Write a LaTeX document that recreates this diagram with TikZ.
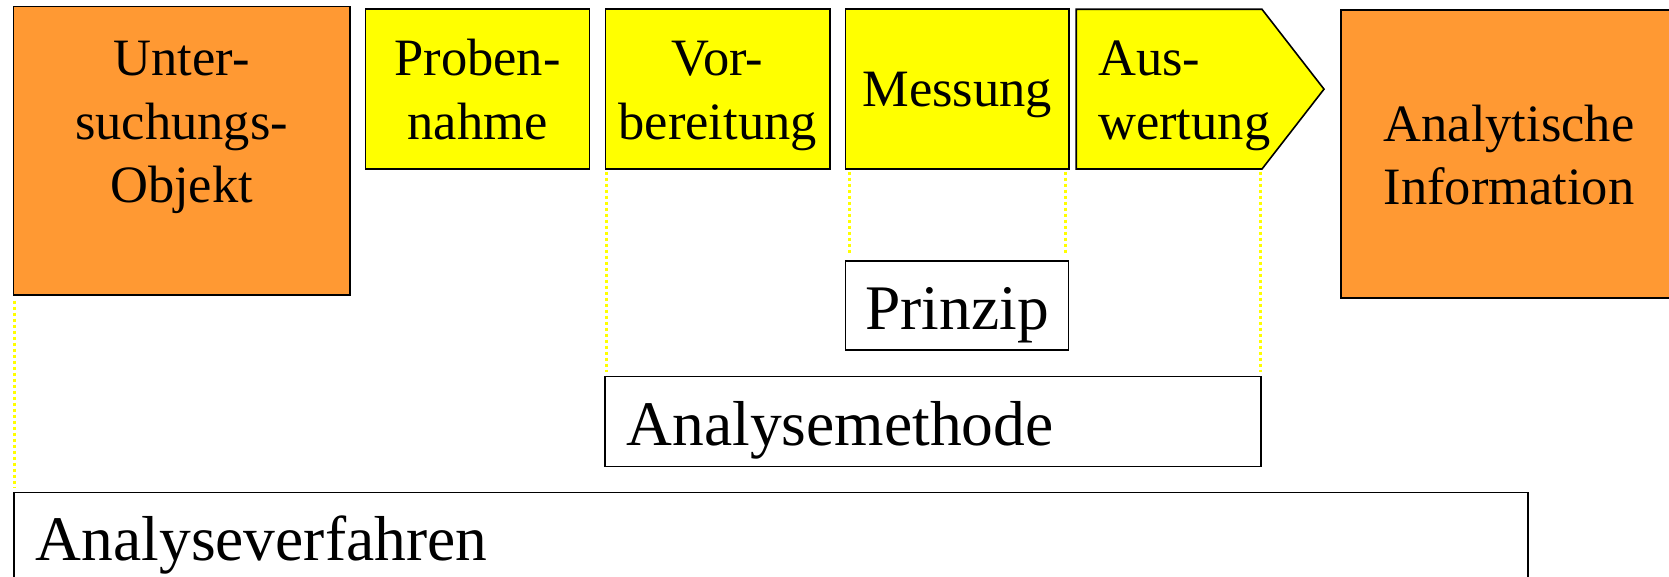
\documentclass[tikz,border=0pt]{standalone}
\usepackage{fontspec}
\setmainfont{Liberation Serif}
\usetikzlibrary{backgrounds}
\definecolor{boxorange}{RGB}{255,153,51}
\definecolor{boxyellow}{RGB}{255,255,0}
\begin{document}
\begin{tikzpicture}[
  x=1pt, y=-1pt,
  box/.style={draw=black, line width=1.6pt, inner sep=0pt, outer sep=0pt, anchor=north west},
  txt/.style={inner sep=0pt, font=\fontsize{52.5pt}{63.5pt}\selectfont, align=center},
  big/.style={inner sep=0pt, font=\fontsize{63.5pt}{76pt}\selectfont},
  guide/.style={draw=boxyellow, line width=3pt, dash pattern=on 3pt off 3pt}
]
\useasboundingbox (0,0) rectangle (1669,577);

% process steps
\node[box, fill=boxorange, minimum width=336.4pt, minimum height=288.3pt] (obj) at (13.4,6.7) {};
\node[box, fill=boxyellow, minimum width=223.9pt, minimum height=159.7pt] (probe) at (365.5,9.3) {};
\node[box, fill=boxyellow, minimum width=224.4pt, minimum height=159.7pt] (vorb) at (605.4,9.3) {};
\node[box, fill=boxyellow, minimum width=223.4pt, minimum height=159.7pt] (mess) at (845.6,9.3) {};
\node[inner sep=0pt, outer sep=0pt, anchor=north west, minimum width=185.8pt, minimum height=159.7pt] (ausw) at (1076.2,9.3) {};
\begin{scope}[on background layer]
  \draw[line width=1.6pt, fill=boxyellow, line join=miter]
    (ausw.north west) -- (ausw.north east) -- ([xshift=62pt]ausw.east)
    -- (ausw.south east) -- (ausw.south west) -- cycle;
\end{scope}
\node[box, fill=boxorange, minimum width=336pt, minimum height=288pt] (info) at (1341,10) {};

% nested scopes
\node[box, fill=white, minimum width=222.8pt, minimum height=89pt] (prinzip) at (845.5,261) {};
\node[box, fill=white, minimum width=656pt, minimum height=90pt] (methode) at (605,376.5) {};
\node[box, fill=white, minimum width=1514pt, minimum height=120pt] (verfahren) at (13.8,492.5) {};

% labels (multi-line labels are anchored on the baseline of their last line)
\node[txt, anchor=base] (objT) at (181.6,203) {Unter-\\suchungs-\\Objekt};
\node[txt, anchor=base] (probeT) at (477.5,139.5) {Proben-\\nahme};
\node[txt, anchor=base] (vorbT) at (717.6,139.5) {Vor-\\bereitung};
\node[txt, anchor=base] (messT) at (957.3,107) {Messung};
\node[txt, align=left, anchor=base west] (auswT) at (1098,139.5) {Aus-\\wertung};
\node[txt, anchor=base] (infoT) at (1509,205) {Analytische\\Information};
\node[big, anchor=base] (prinzipT) at (957,329) {Prinzip};
\node[big, anchor=base west] (methodeT) at (626.5,445) {Analysemethode};
\node[big, anchor=base west] (verfahrenT) at (35.7,560) {Analyseverfahren};

% dotted guides
\draw[guide, shorten <=5.7pt, shorten >=4.5pt]
  ([xshift=1.4pt]obj.south west) -- ([xshift=1.4pt]obj.south west |- verfahren.north);
\draw[guide, shorten <=2.7pt, shorten >=4.5pt]
  ([xshift=1pt]vorb.south west) -- ([xshift=1pt]vorb.south west |- methode.north);
\draw[guide, shorten <=2.7pt, shorten >=6pt]
  ([xshift=4pt]mess.south west) -- ([xshift=4pt]mess.south west |- prinzip.north);
\draw[guide, shorten <=2.7pt, shorten >=6pt]
  ([xshift=-3.5pt]mess.south east) -- ([xshift=-3.5pt]mess.south east |- prinzip.north);
\draw[guide, shorten <=2.7pt, shorten >=4.5pt]
  ([xshift=-2pt]ausw.south east) -- ([xshift=-2pt]ausw.south east |- methode.north);
\end{tikzpicture}
\end{document}
